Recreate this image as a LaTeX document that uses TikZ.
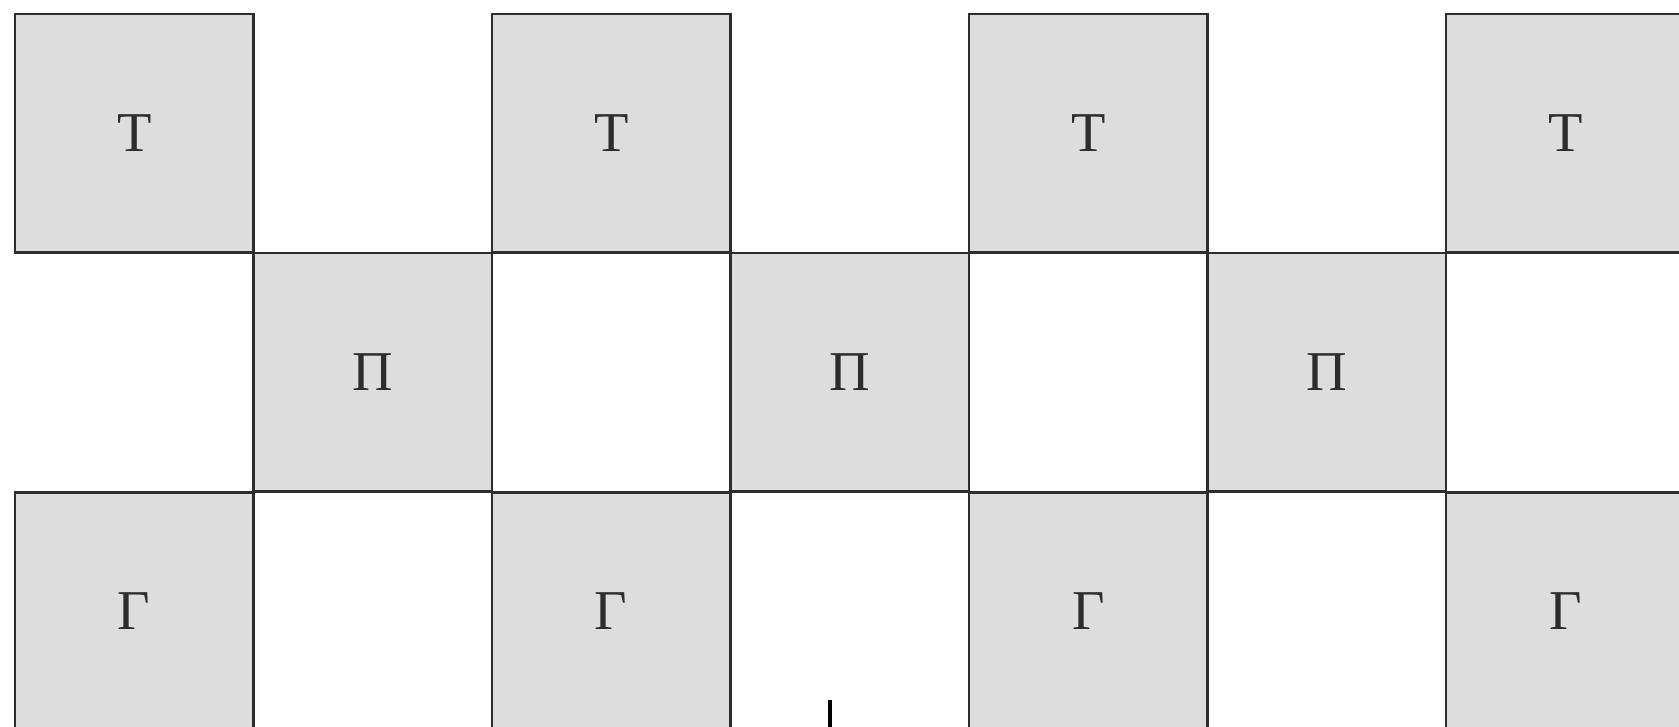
\documentclass[tikz,border=0pt]{standalone}
\usepackage{fontspec}
\setmainfont{Liberation Serif}
\definecolor{cellgray}{RGB}{221, 221, 221}
\definecolor{edgegray}{RGB}{45, 45, 45}
\usepackage{tikz}
\usetikzlibrary{positioning}

\begin{document}
\begin{tikzpicture}[
  cell/.style={draw=edgegray, fill=cellgray, line width=0.85pt, minimum size=2.385cm, inner sep=0pt, outer sep=0pt, text=edgegray, font=\fontsize{16}{19}\selectfont}
]
  \useasboundingbox (0, 0) rectangle (16.79, -7.27);
  % upper row
  \foreach \i in {0, 2, 4, 6} {
    \node[cell] (top\i) at (1.3425 + 2.385*\i, -1.3325) {Т};
  }
  % middle row
  \foreach \i in {1, 3, 5} {
    \node[cell] (mid\i) at (1.3425 + 2.385*\i, -3.7225) {П};
  }
  % lower row
  \foreach \i in {0, 2, 4, 6} {
    \node[cell] (bot\i) at (1.3425 + 2.385*\i, -6.1125) {Г};
  }
  \draw[line width=1.2pt] (8.30, -7.00) -- (8.30, -7.30);
\end{tikzpicture}
\end{document}
